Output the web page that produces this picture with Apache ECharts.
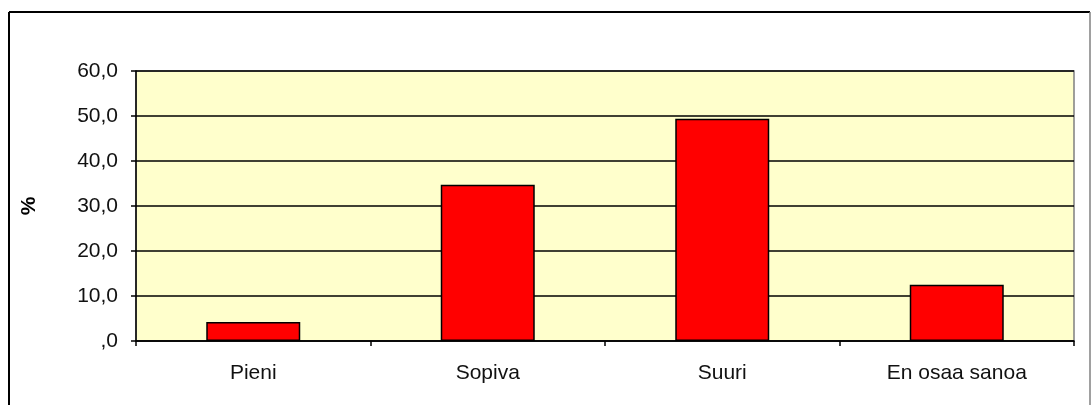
<!DOCTYPE html>
<html>
<head>
<meta charset="utf-8">
<script src="https://cdn.jsdelivr.net/npm/echarts@6/dist/echarts.min.js"></script>
<style>
  html, body { margin: 0; padding: 0; background: #fff; }
  #chart { width: 1091px; height: 405px; }
</style>
</head>
<body>
<div id="chart"></div>
<script>
  // luokat ja arvot (%)
  var categories = ['Pieni', 'Sopiva', 'Suuri', 'En osaa sanoa'];
  var values = [4.2, 34.7, 49.4, 12.5];
  var yTicks = [0, 10, 20, 30, 40, 50, 60];

  var font = 'Arial, "Liberation Sans", sans-serif';

  var chart = echarts.init(document.getElementById('chart'));
  chart.setOption({
    animation: false,
    backgroundColor: '#ffffff',
    textStyle: { fontFamily: font },
    grid: {
      left: 136,
      right: 17,
      top: 71,
      bottom: 64,
      show: true,
      backgroundColor: '#FFFFCC',
      borderColor: '#808080',
      borderWidth: 1.5
    },
    // ulkokehys
    graphic: [
      { type: 'line', shape: { x1: 9, y1: 12, x2: 1090, y2: 12 }, style: { stroke: '#000', lineWidth: 2 } },
      { type: 'line', shape: { x1: 9, y1: 12, x2: 9, y2: 405 }, style: { stroke: '#000', lineWidth: 2 } },
      { type: 'line', shape: { x1: 1090, y1: 12, x2: 1090, y2: 405 }, style: { stroke: '#808080', lineWidth: 1.5 } }
    ],
    xAxis: {
      type: 'category',
      data: categories,
      axisLine: { lineStyle: { color: '#000', width: 1.5 } },
      axisTick: { show: true, length: 5, lineStyle: { color: '#000', width: 1.5 } },
      axisLabel: { color: '#111', fontSize: 21, margin: 22, fontFamily: font }
    },
    yAxis: {
      type: 'value',
      min: yTicks[0],
      max: yTicks[yTicks.length - 1],
      interval: 10,
      name: '%',
      nameLocation: 'middle',
      nameGap: 96,
      nameRotate: 90,
      nameTextStyle: { color: '#000', fontSize: 21, fontWeight: 'bold', fontFamily: font },
      axisLine: { show: true, lineStyle: { color: '#000', width: 1.5 } },
      axisTick: { show: true, length: 5, lineStyle: { color: '#000', width: 1.5 } },
      axisLabel: {
        color: '#111',
        fontSize: 21,
        margin: 18,
        fontFamily: font,
        formatter: function (v) {
          return v === 0 ? ',0' : v.toFixed(1).replace('.', ',');
        }
      },
      splitLine: { lineStyle: { color: '#000', width: 1.5 } }
    },
    series: [{
      type: 'bar',
      data: values,
      barWidth: 94,
      itemStyle: { color: '#FF0000', borderColor: '#000', borderWidth: 1.5 }
    }]
  });
</script>
</body>
</html>
